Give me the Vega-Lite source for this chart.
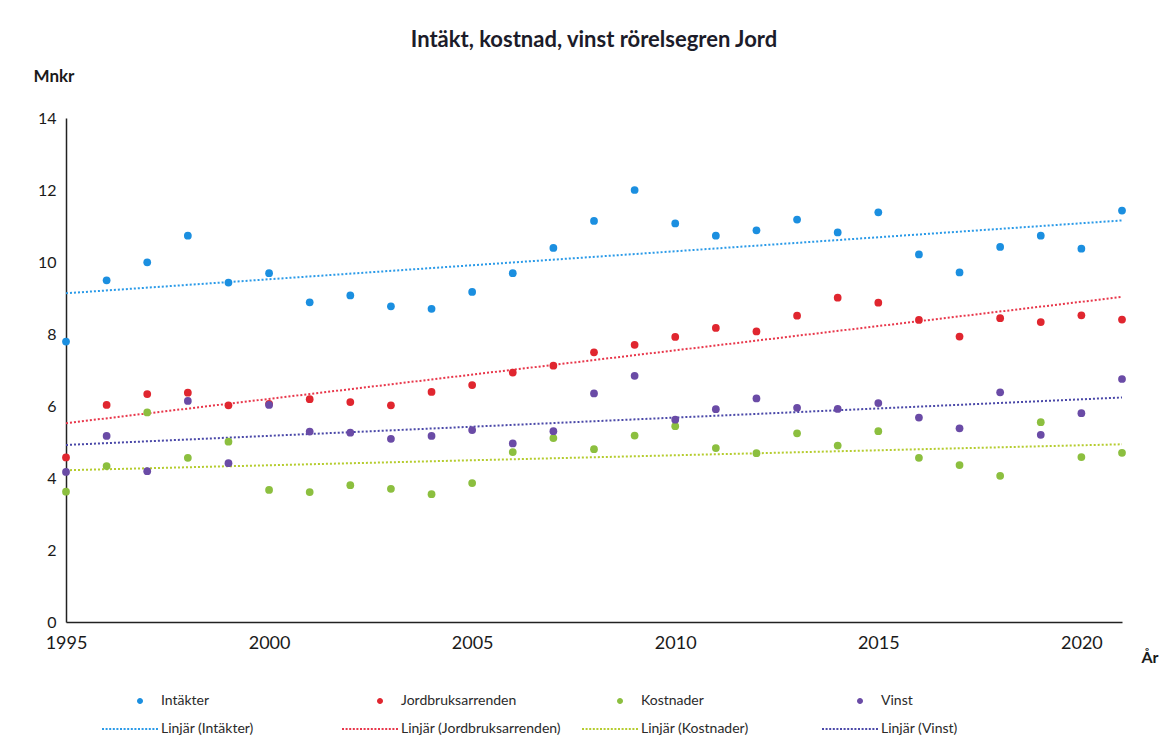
{
  "$schema": "https://vega.github.io/schema/vega-lite/v6.json",
  "width": 1056,
  "height": 504,
  "autosize": {"type": "none"},
  "padding": {"left": 66, "top": 118, "right": 49, "bottom": 123},
  "background": "white",
  "title": {
    "text": "Intäkt, kostnad, vinst rörelsegren Jord",
    "font": "Lato",
    "fontSize": 22,
    "fontWeight": "bold",
    "color": "#1c1c2a",
    "frame": "group",
    "anchor": "middle",
    "offset": 15
  },
  "config": {
    "view": {"stroke": null},
    "font": "Lato",
    "legend": {
      "orient": "none",
      "legendX": 72,
      "legendY": 573,
      "direction": "horizontal",
      "columns": 4,
      "gridAlign": "all",
      "columnPadding": 21,
      "rowPadding": 11,
      "symbolSize": 400,
      "symbolStrokeWidth": 0,
      "labelFont": "Lato",
      "labelFontSize": 14,
      "labelColor": "#2a2a2a",
      "labelOffset": 3,
      "labelLimit": 300
    }
  },
  "data": {
    "values": [
      {"year": 1995, "serie": "Intäkter", "trend": "Linjär (Intäkter)", "value": 7.79},
      {"year": 1996, "serie": "Intäkter", "trend": "Linjär (Intäkter)", "value": 9.49},
      {"year": 1997, "serie": "Intäkter", "trend": "Linjär (Intäkter)", "value": 9.99},
      {"year": 1998, "serie": "Intäkter", "trend": "Linjär (Intäkter)", "value": 10.73},
      {"year": 1999, "serie": "Intäkter", "trend": "Linjär (Intäkter)", "value": 9.43},
      {"year": 2000, "serie": "Intäkter", "trend": "Linjär (Intäkter)", "value": 9.69},
      {"year": 2001, "serie": "Intäkter", "trend": "Linjär (Intäkter)", "value": 8.88},
      {"year": 2002, "serie": "Intäkter", "trend": "Linjär (Intäkter)", "value": 9.07},
      {"year": 2003, "serie": "Intäkter", "trend": "Linjär (Intäkter)", "value": 8.77},
      {"year": 2004, "serie": "Intäkter", "trend": "Linjär (Intäkter)", "value": 8.70},
      {"year": 2005, "serie": "Intäkter", "trend": "Linjär (Intäkter)", "value": 9.17},
      {"year": 2006, "serie": "Intäkter", "trend": "Linjär (Intäkter)", "value": 9.69},
      {"year": 2007, "serie": "Intäkter", "trend": "Linjär (Intäkter)", "value": 10.39},
      {"year": 2008, "serie": "Intäkter", "trend": "Linjär (Intäkter)", "value": 11.14},
      {"year": 2009, "serie": "Intäkter", "trend": "Linjär (Intäkter)", "value": 12.0},
      {"year": 2010, "serie": "Intäkter", "trend": "Linjär (Intäkter)", "value": 11.07},
      {"year": 2011, "serie": "Intäkter", "trend": "Linjär (Intäkter)", "value": 10.73},
      {"year": 2012, "serie": "Intäkter", "trend": "Linjär (Intäkter)", "value": 10.88},
      {"year": 2013, "serie": "Intäkter", "trend": "Linjär (Intäkter)", "value": 11.18},
      {"year": 2014, "serie": "Intäkter", "trend": "Linjär (Intäkter)", "value": 10.82},
      {"year": 2015, "serie": "Intäkter", "trend": "Linjär (Intäkter)", "value": 11.38},
      {"year": 2016, "serie": "Intäkter", "trend": "Linjär (Intäkter)", "value": 10.21},
      {"year": 2017, "serie": "Intäkter", "trend": "Linjär (Intäkter)", "value": 9.71},
      {"year": 2018, "serie": "Intäkter", "trend": "Linjär (Intäkter)", "value": 10.42},
      {"year": 2019, "serie": "Intäkter", "trend": "Linjär (Intäkter)", "value": 10.73},
      {"year": 2020, "serie": "Intäkter", "trend": "Linjär (Intäkter)", "value": 10.37},
      {"year": 2021, "serie": "Intäkter", "trend": "Linjär (Intäkter)", "value": 11.43},

      {"year": 1995, "serie": "Jordbruksarrenden", "trend": "Linjär (Jordbruksarrenden)", "value": 4.57},
      {"year": 1996, "serie": "Jordbruksarrenden", "trend": "Linjär (Jordbruksarrenden)", "value": 6.03},
      {"year": 1997, "serie": "Jordbruksarrenden", "trend": "Linjär (Jordbruksarrenden)", "value": 6.33},
      {"year": 1998, "serie": "Jordbruksarrenden", "trend": "Linjär (Jordbruksarrenden)", "value": 6.37},
      {"year": 1999, "serie": "Jordbruksarrenden", "trend": "Linjär (Jordbruksarrenden)", "value": 6.02},
      {"year": 2000, "serie": "Jordbruksarrenden", "trend": "Linjär (Jordbruksarrenden)", "value": 6.06},
      {"year": 2001, "serie": "Jordbruksarrenden", "trend": "Linjär (Jordbruksarrenden)", "value": 6.19},
      {"year": 2002, "serie": "Jordbruksarrenden", "trend": "Linjär (Jordbruksarrenden)", "value": 6.11},
      {"year": 2003, "serie": "Jordbruksarrenden", "trend": "Linjär (Jordbruksarrenden)", "value": 6.02},
      {"year": 2004, "serie": "Jordbruksarrenden", "trend": "Linjär (Jordbruksarrenden)", "value": 6.39},
      {"year": 2005, "serie": "Jordbruksarrenden", "trend": "Linjär (Jordbruksarrenden)", "value": 6.58},
      {"year": 2006, "serie": "Jordbruksarrenden", "trend": "Linjär (Jordbruksarrenden)", "value": 6.93},
      {"year": 2007, "serie": "Jordbruksarrenden", "trend": "Linjär (Jordbruksarrenden)", "value": 7.12},
      {"year": 2008, "serie": "Jordbruksarrenden", "trend": "Linjär (Jordbruksarrenden)", "value": 7.49},
      {"year": 2009, "serie": "Jordbruksarrenden", "trend": "Linjär (Jordbruksarrenden)", "value": 7.70},
      {"year": 2010, "serie": "Jordbruksarrenden", "trend": "Linjär (Jordbruksarrenden)", "value": 7.92},
      {"year": 2011, "serie": "Jordbruksarrenden", "trend": "Linjär (Jordbruksarrenden)", "value": 8.17},
      {"year": 2012, "serie": "Jordbruksarrenden", "trend": "Linjär (Jordbruksarrenden)", "value": 8.07},
      {"year": 2013, "serie": "Jordbruksarrenden", "trend": "Linjär (Jordbruksarrenden)", "value": 8.51},
      {"year": 2014, "serie": "Jordbruksarrenden", "trend": "Linjär (Jordbruksarrenden)", "value": 9.01},
      {"year": 2015, "serie": "Jordbruksarrenden", "trend": "Linjär (Jordbruksarrenden)", "value": 8.87},
      {"year": 2016, "serie": "Jordbruksarrenden", "trend": "Linjär (Jordbruksarrenden)", "value": 8.39},
      {"year": 2017, "serie": "Jordbruksarrenden", "trend": "Linjär (Jordbruksarrenden)", "value": 7.93},
      {"year": 2018, "serie": "Jordbruksarrenden", "trend": "Linjär (Jordbruksarrenden)", "value": 8.44},
      {"year": 2019, "serie": "Jordbruksarrenden", "trend": "Linjär (Jordbruksarrenden)", "value": 8.33},
      {"year": 2020, "serie": "Jordbruksarrenden", "trend": "Linjär (Jordbruksarrenden)", "value": 8.52},
      {"year": 2021, "serie": "Jordbruksarrenden", "trend": "Linjär (Jordbruksarrenden)", "value": 8.40},

      {"year": 1995, "serie": "Kostnader", "trend": "Linjär (Kostnader)", "value": 3.62},
      {"year": 1996, "serie": "Kostnader", "trend": "Linjär (Kostnader)", "value": 4.33},
      {"year": 1997, "serie": "Kostnader", "trend": "Linjär (Kostnader)", "value": 5.82},
      {"year": 1998, "serie": "Kostnader", "trend": "Linjär (Kostnader)", "value": 4.56},
      {"year": 1999, "serie": "Kostnader", "trend": "Linjär (Kostnader)", "value": 5.01},
      {"year": 2000, "serie": "Kostnader", "trend": "Linjär (Kostnader)", "value": 3.67},
      {"year": 2001, "serie": "Kostnader", "trend": "Linjär (Kostnader)", "value": 3.61},
      {"year": 2002, "serie": "Kostnader", "trend": "Linjär (Kostnader)", "value": 3.80},
      {"year": 2003, "serie": "Kostnader", "trend": "Linjär (Kostnader)", "value": 3.70},
      {"year": 2004, "serie": "Kostnader", "trend": "Linjär (Kostnader)", "value": 3.55},
      {"year": 2005, "serie": "Kostnader", "trend": "Linjär (Kostnader)", "value": 3.86},
      {"year": 2006, "serie": "Kostnader", "trend": "Linjär (Kostnader)", "value": 4.72},
      {"year": 2007, "serie": "Kostnader", "trend": "Linjär (Kostnader)", "value": 5.11},
      {"year": 2008, "serie": "Kostnader", "trend": "Linjär (Kostnader)", "value": 4.80},
      {"year": 2009, "serie": "Kostnader", "trend": "Linjär (Kostnader)", "value": 5.18},
      {"year": 2010, "serie": "Kostnader", "trend": "Linjär (Kostnader)", "value": 5.44},
      {"year": 2011, "serie": "Kostnader", "trend": "Linjär (Kostnader)", "value": 4.83},
      {"year": 2012, "serie": "Kostnader", "trend": "Linjär (Kostnader)", "value": 4.69},
      {"year": 2013, "serie": "Kostnader", "trend": "Linjär (Kostnader)", "value": 5.24},
      {"year": 2014, "serie": "Kostnader", "trend": "Linjär (Kostnader)", "value": 4.90},
      {"year": 2015, "serie": "Kostnader", "trend": "Linjär (Kostnader)", "value": 5.30},
      {"year": 2016, "serie": "Kostnader", "trend": "Linjär (Kostnader)", "value": 4.56},
      {"year": 2017, "serie": "Kostnader", "trend": "Linjär (Kostnader)", "value": 4.36},
      {"year": 2018, "serie": "Kostnader", "trend": "Linjär (Kostnader)", "value": 4.06},
      {"year": 2019, "serie": "Kostnader", "trend": "Linjär (Kostnader)", "value": 5.55},
      {"year": 2020, "serie": "Kostnader", "trend": "Linjär (Kostnader)", "value": 4.58},
      {"year": 2021, "serie": "Kostnader", "trend": "Linjär (Kostnader)", "value": 4.70},

      {"year": 1995, "serie": "Vinst", "trend": "Linjär (Vinst)", "value": 4.17},
      {"year": 1996, "serie": "Vinst", "trend": "Linjär (Vinst)", "value": 5.17},
      {"year": 1997, "serie": "Vinst", "trend": "Linjär (Vinst)", "value": 4.19},
      {"year": 1998, "serie": "Vinst", "trend": "Linjär (Vinst)", "value": 6.14},
      {"year": 1999, "serie": "Vinst", "trend": "Linjär (Vinst)", "value": 4.41},
      {"year": 2000, "serie": "Vinst", "trend": "Linjär (Vinst)", "value": 6.03},
      {"year": 2001, "serie": "Vinst", "trend": "Linjär (Vinst)", "value": 5.29},
      {"year": 2002, "serie": "Vinst", "trend": "Linjär (Vinst)", "value": 5.26},
      {"year": 2003, "serie": "Vinst", "trend": "Linjär (Vinst)", "value": 5.09},
      {"year": 2004, "serie": "Vinst", "trend": "Linjär (Vinst)", "value": 5.17},
      {"year": 2005, "serie": "Vinst", "trend": "Linjär (Vinst)", "value": 5.33},
      {"year": 2006, "serie": "Vinst", "trend": "Linjär (Vinst)", "value": 4.96},
      {"year": 2007, "serie": "Vinst", "trend": "Linjär (Vinst)", "value": 5.30},
      {"year": 2008, "serie": "Vinst", "trend": "Linjär (Vinst)", "value": 6.35},
      {"year": 2009, "serie": "Vinst", "trend": "Linjär (Vinst)", "value": 6.84},
      {"year": 2010, "serie": "Vinst", "trend": "Linjär (Vinst)", "value": 5.62},
      {"year": 2011, "serie": "Vinst", "trend": "Linjär (Vinst)", "value": 5.91},
      {"year": 2012, "serie": "Vinst", "trend": "Linjär (Vinst)", "value": 6.21},
      {"year": 2013, "serie": "Vinst", "trend": "Linjär (Vinst)", "value": 5.95},
      {"year": 2014, "serie": "Vinst", "trend": "Linjär (Vinst)", "value": 5.92},
      {"year": 2015, "serie": "Vinst", "trend": "Linjär (Vinst)", "value": 6.08},
      {"year": 2016, "serie": "Vinst", "trend": "Linjär (Vinst)", "value": 5.68},
      {"year": 2017, "serie": "Vinst", "trend": "Linjär (Vinst)", "value": 5.38},
      {"year": 2018, "serie": "Vinst", "trend": "Linjär (Vinst)", "value": 6.38},
      {"year": 2019, "serie": "Vinst", "trend": "Linjär (Vinst)", "value": 5.20},
      {"year": 2020, "serie": "Vinst", "trend": "Linjär (Vinst)", "value": 5.80},
      {"year": 2021, "serie": "Vinst", "trend": "Linjär (Vinst)", "value": 6.75}
    ]
  },
  "encoding": {
    "x": {
      "field": "year",
      "type": "quantitative",
      "scale": {"domain": [1995, 2021], "nice": false, "zero": false},
      "axis": {
        "values": [1995, 2000, 2005, 2010, 2015, 2020],
        "format": "d",
        "ticks": false,
        "grid": false,
        "labelFlush": false,
        "domainColor": "#222222",
        "domainWidth": 1.5,
        "labelFont": "Lato",
        "labelFontSize": 18,
        "labelColor": "#1a1a1a",
        "labelPadding": 12,
        "title": "År",
        "titleFont": "Lato",
        "titleFontSize": 16,
        "titleFontWeight": "bold",
        "titleColor": "#1a1a1a",
        "titleAngle": 0,
        "titleAlign": "left",
        "titleBaseline": "alphabetic",
        "titleX": 1075,
        "titleY": 40
      }
    },
    "y": {
      "field": "value",
      "type": "quantitative",
      "scale": {"domain": [0, 14], "nice": false},
      "axis": {
        "values": [0, 2, 4, 6, 8, 10, 12, 14],
        "ticks": false,
        "grid": false,
        "domainColor": "#222222",
        "domainWidth": 1.5,
        "labelFont": "Lato",
        "labelFontSize": 16,
        "labelColor": "#1a1a1a",
        "labelPadding": 10,
        "title": "Mnkr",
        "titleFont": "Lato",
        "titleFontSize": 17,
        "titleFontWeight": "bold",
        "titleColor": "#1a1a1a",
        "titleAngle": 0,
        "titleAlign": "left",
        "titleBaseline": "alphabetic",
        "titleX": -33,
        "titleY": -37
      }
    }
  },
  "layer": [
    {
      "transform": [
        {"regression": "value", "on": "year", "groupby": ["serie", "trend"], "extent": [1995, 2021]}
      ],
      "mark": {"type": "line", "strokeDash": [2, 2], "strokeWidth": 2},
      "encoding": {
        "stroke": {
          "field": "trend",
          "type": "nominal",
          "scale": {
            "domain": ["Linjär (Intäkter)", "Linjär (Jordbruksarrenden)", "Linjär (Kostnader)", "Linjär (Vinst)"],
            "range": ["#2a9ae8", "#e8364a", "#b5cc2e", "#4a48a8"]
          },
          "legend": null
        }
      }
    },
    {
      "mark": {"type": "point", "filled": true, "size": 60, "opacity": 1},
      "encoding": {
        "color": {
          "field": "serie",
          "type": "nominal",
          "scale": {
            "domain": ["Intäkter", "Jordbruksarrenden", "Kostnader", "Vinst", "Linjär (Intäkter)", "Linjär (Jordbruksarrenden)", "Linjär (Kostnader)", "Linjär (Vinst)"],
            "range": ["#1b8fe0", "#e0262f", "#8cbf3f", "#6a4ba6", "#2a9ae8", "#e8364a", "#b5cc2e", "#4a48a8"]
          },
          "legend": {
            "title": null,
            "symbolType": {"expr": "indexof(datum.label, 'Linjär') === 0 ? 'M-4.6,-0.09h0.2v0.18h-0.2ZM-4.24,-0.09h0.2v0.18h-0.2ZM-3.88,-0.09h0.2v0.18h-0.2ZM-3.52,-0.09h0.2v0.18h-0.2ZM-3.16,-0.09h0.2v0.18h-0.2ZM-2.8,-0.09h0.2v0.18h-0.2ZM-2.44,-0.09h0.2v0.18h-0.2ZM-2.08,-0.09h0.2v0.18h-0.2ZM-1.72,-0.09h0.2v0.18h-0.2ZM-1.36,-0.09h0.2v0.18h-0.2ZM-1,-0.09h0.2v0.18h-0.2ZM-0.64,-0.09h0.2v0.18h-0.2ZM-0.28,-0.09h0.2v0.18h-0.2ZM0.08,-0.09h0.2v0.18h-0.2ZM0.44,-0.09h0.2v0.18h-0.2ZM0.8,-0.09h0.2v0.18h-0.2Z' : 'M-4.6,0M-0.5,0A0.3,0.3 0 1,1 -1.1,0A0.3,0.3 0 1,1 -0.5,0Z'"}
          }
        }
      }
    }
  ]
}
